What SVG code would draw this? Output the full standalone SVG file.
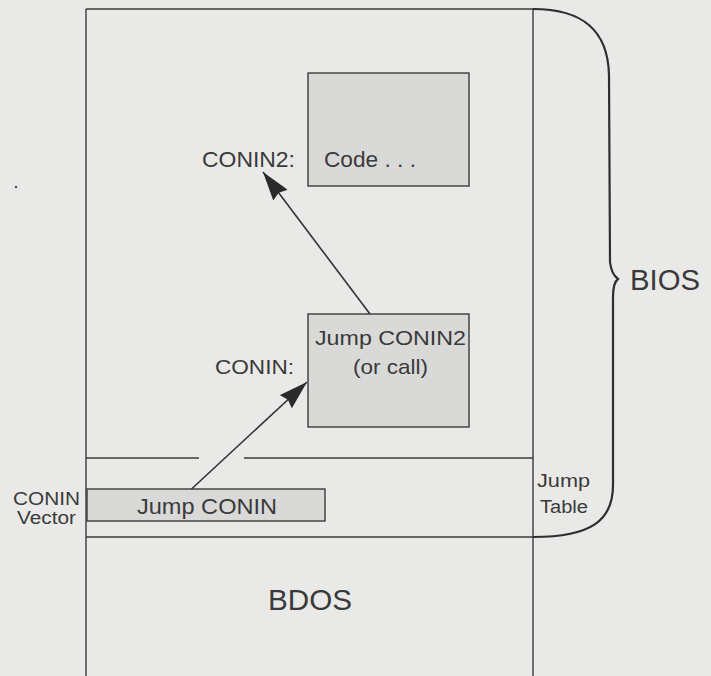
<svg xmlns="http://www.w3.org/2000/svg" width="711" height="676" viewBox="0 0 711 676">
  <style>
    .line { stroke: #3a3a3a; stroke-width: 1.4; fill: none; }
    .box { fill: #d9d9d8; stroke: #3a3a3a; stroke-width: 1.4; }
    .brace { stroke: #2e2e2e; stroke-width: 2.2; fill: none; }
    .t { font-family: "Liberation Sans", Arial, Helvetica, sans-serif; fill: #3a3a3a; }
    .conn { stroke: #333333; stroke-width: 1.6; fill: none; }
  </style>
  <defs>
    <marker id="arrow" viewBox="0 0 29 18" refX="29" refY="9" markerWidth="29" markerHeight="18" markerUnits="userSpaceOnUse" orient="auto">
      <path d="M0,0 L29,9 L0,18 L3,9 Z" fill="#2a2a2a"/>
    </marker>
  </defs>

  <rect x="0" y="0" width="711" height="676" fill="#e9e9e7"/>
  <circle cx="16" cy="187" r="1.3" fill="#555"/>

  <g id="memory-frame">
    <line class="line" x1="86" y1="9" x2="533" y2="9"/>
    <line class="line" x1="86" y1="9" x2="86" y2="676"/>
    <line class="line" x1="533" y1="9" x2="533" y2="676"/>
    <line class="line" x1="86" y1="458" x2="199" y2="458"/>
    <line class="line" x1="244" y1="458" x2="533" y2="458"/>
    <line class="line" x1="86" y1="537" x2="533" y2="537"/>
  </g>

  <g id="bios-brace">
    <path class="brace" d="M533,9 C580,9 608,28 609,75 L610,262 C611,271 614,276 618,279 C614,282 613,288 613,297 L613,485 C613,520 592,537 533,537"/>
    <text class="t" x="630" y="290" font-size="29" textLength="70" lengthAdjust="spacingAndGlyphs">BIOS</text>
  </g>

  <g id="code-box">
    <rect class="box" x="308" y="73" width="161" height="113"/>
    <text class="t" x="324" y="167" font-size="22" textLength="92" lengthAdjust="spacingAndGlyphs">Code . . .</text>
    <text class="t" x="202" y="167" font-size="22" textLength="93" lengthAdjust="spacingAndGlyphs">CONIN2:</text>
  </g>

  <g id="conin-box">
    <rect class="box" x="308" y="314" width="161" height="113"/>
    <text class="t" x="315" y="344.5" font-size="21" textLength="151" lengthAdjust="spacingAndGlyphs">Jump CONIN2</text>
    <text class="t" x="353" y="374" font-size="21" textLength="75" lengthAdjust="spacingAndGlyphs">(or call)</text>
    <text class="t" x="215" y="374" font-size="21" textLength="79" lengthAdjust="spacingAndGlyphs">CONIN:</text>
  </g>

  <g id="vector-box">
    <rect class="box" x="87" y="489" width="238" height="32"/>
    <text class="t" x="137" y="514" font-size="22" textLength="140" lengthAdjust="spacingAndGlyphs">Jump CONIN</text>
    <text class="t" x="13" y="505" font-size="18" textLength="67" lengthAdjust="spacingAndGlyphs">CONIN</text>
    <text class="t" x="17" y="524" font-size="18" textLength="59" lengthAdjust="spacingAndGlyphs">Vector</text>
  </g>

  <g id="jump-table-label">
    <text class="t" x="537" y="487" font-size="18" textLength="53" lengthAdjust="spacingAndGlyphs">Jump</text>
    <text class="t" x="540" y="513" font-size="18" textLength="48" lengthAdjust="spacingAndGlyphs">Table</text>
  </g>

  <g id="bdos">
    <text class="t" x="268" y="610" font-size="30" textLength="84" lengthAdjust="spacingAndGlyphs">BDOS</text>
  </g>

  <g id="connectors">
    <line class="conn" x1="191.5" y1="489" x2="307" y2="382" marker-end="url(#arrow)"/>
    <line class="conn" x1="370" y1="314" x2="263" y2="172" marker-end="url(#arrow)"/>
  </g>
</svg>
